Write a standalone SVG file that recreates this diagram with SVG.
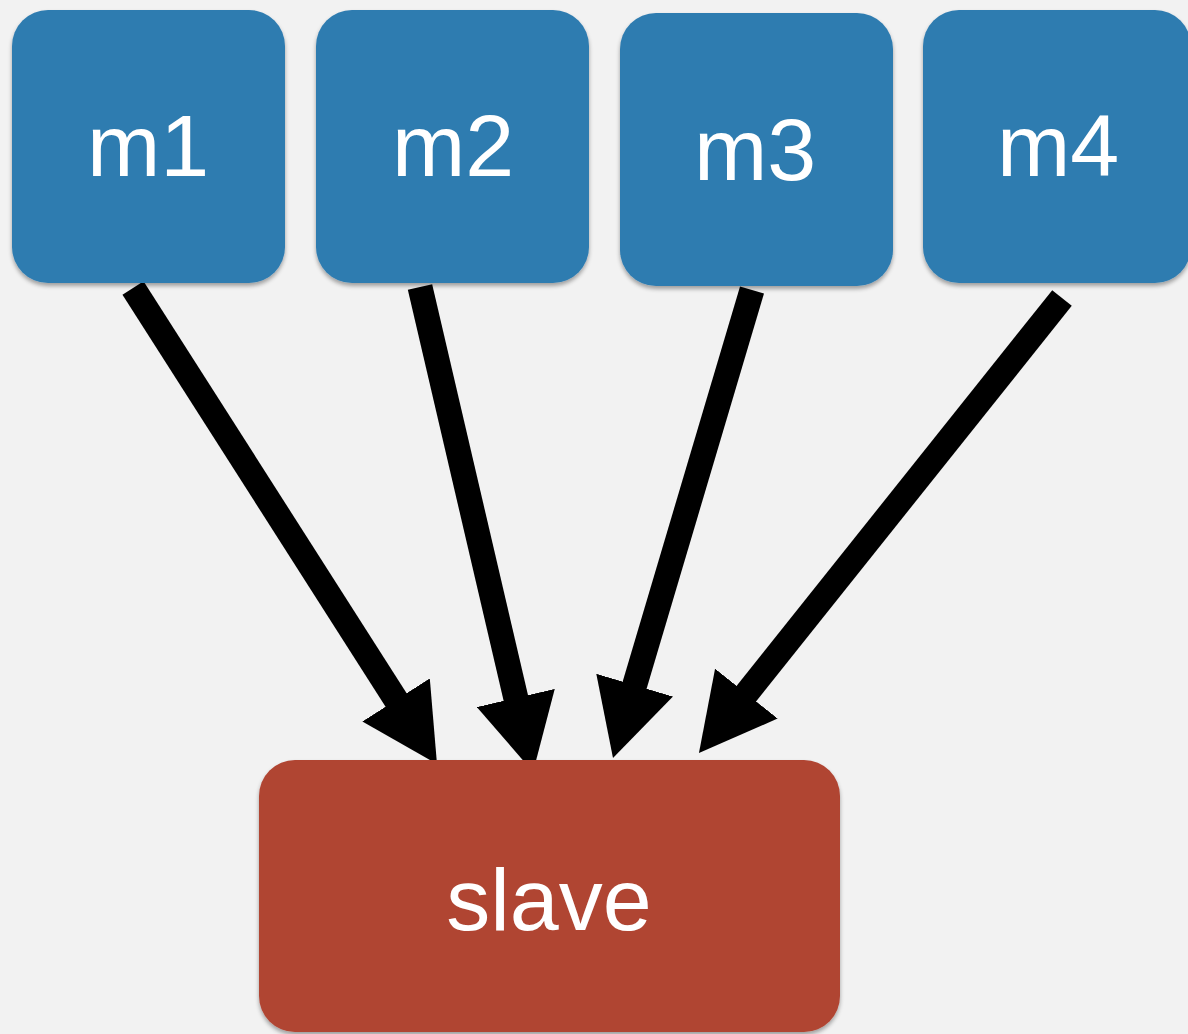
<svg xmlns="http://www.w3.org/2000/svg" width="1188" height="1034" viewBox="0 0 1188 1034">
  <defs>
    <style>
      .bg { fill: #f2f2f2; }
      .mbox { fill: #2f7cb0; filter: url(#shadow); }
      .sbox { fill: #b04432; filter: url(#shadow); }
      .lbl { font-family: "Liberation Sans", Arial, sans-serif; font-size: 88px; fill: #ffffff; text-anchor: middle; }
      .conn { stroke: #000000; stroke-width: 25; fill: none; marker-end: url(#head); }
    </style>
    <filter id="shadow" x="-10%" y="-10%" width="120%" height="125%">
      <feGaussianBlur in="SourceAlpha" stdDeviation="2"/>
      <feOffset dx="0" dy="3" result="b"/>
      <feComponentTransfer><feFuncA type="linear" slope="0.35"/></feComponentTransfer>
      <feMerge><feMergeNode/><feMergeNode in="SourceGraphic"/></feMerge>
    </filter>
    <marker id="head" markerUnits="userSpaceOnUse" viewBox="0 0 76 80" refX="11" refY="40" markerWidth="76" markerHeight="80" orient="auto">
      <path d="M0,0 L76,40 L0,80 z" fill="#000000"/>
    </marker>
  </defs>
  <rect class="bg" x="0" y="0" width="1188" height="1034"/>

  <g id="connectors">
    <line class="conn" x1="133" y1="288" x2="402" y2="709.2"/>
    <line class="conn" x1="420" y1="287" x2="518.3" y2="708.7"/>
    <line class="conn" x1="752" y1="290" x2="631.5" y2="695.7"/>
    <line class="conn" x1="1062" y1="298" x2="739.5" y2="702.2"/>
  </g>

  <g id="m1">
    <rect class="mbox" x="12" y="10" width="273" height="273" rx="36" ry="36"/>
    <text class="lbl" x="148" y="176">m1</text>
  </g>
  <g id="m2">
    <rect class="mbox" x="316" y="10" width="273" height="273" rx="36" ry="36"/>
    <text class="lbl" x="453" y="176">m2</text>
  </g>
  <g id="m3">
    <rect class="mbox" x="620" y="13" width="273" height="273" rx="36" ry="36"/>
    <text class="lbl" x="755" y="180">m3</text>
  </g>
  <g id="m4">
    <rect class="mbox" x="923" y="10" width="268" height="273" rx="36" ry="36"/>
    <text class="lbl" x="1058" y="176">m4</text>
  </g>
  <g id="slave">
    <rect class="sbox" x="259" y="760" width="581" height="272" rx="36" ry="36"/>
    <text class="lbl" x="549" y="930">slave</text>
  </g>
</svg>
